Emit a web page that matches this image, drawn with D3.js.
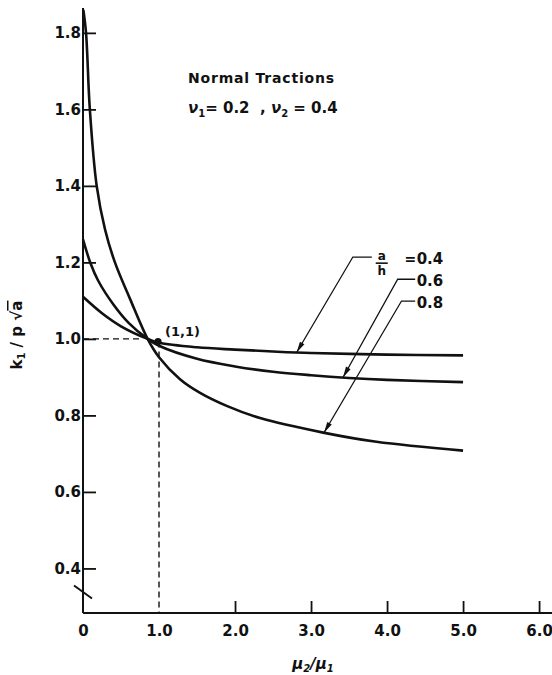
<!DOCTYPE html>
<html>
<head>
<meta charset="utf-8">
<script src="https://cdn.jsdelivr.net/npm/d3@7"></script>
<style>
  body { margin: 0; background: #fff; }
  text { font-family: "DejaVu Sans", sans-serif; font-weight: bold; fill: #111; }
</style>
</head>
<body>
<div id="chart"></div>
<script>
// a/h ratios and the k1/(p sqrt a) curves
const ratioLabels = ['0.4', '0.6', '0.8'];
const mu04 = [0, 0.25, 0.5, 0.85, 1.0, 1.5, 2.0, 2.5, 3.0, 4.0, 5.0];
const k04  = [1.11, 1.067, 1.033, 1.0, 0.99, 0.978, 0.972, 0.967, 0.963, 0.959, 0.957];
const mu06 = [0, 0.1, 0.2, 0.4, 0.6, 0.85, 1.0, 1.5, 2.0, 2.5, 3.0, 3.5, 4.0, 5.0];
const k06  = [1.26, 1.197, 1.152, 1.09, 1.042, 1.0, 0.982, 0.948, 0.928, 0.914, 0.905, 0.898, 0.893, 0.887];
const mu08 = [0.005, 0.04, 0.09, 0.18, 0.29, 0.42, 0.62, 0.85, 1.0, 1.28, 1.54, 1.89, 2.33, 3.16, 3.86, 5.0];
const k08  = [1.86, 1.8, 1.6, 1.4, 1.286, 1.2, 1.104, 1.0, 0.952, 0.894, 0.859, 0.825, 0.793, 0.755, 0.731, 0.708];
const xTicks = [0, 1, 2, 3, 4, 5, 6];
const yTicks = [0.4, 0.6, 0.8, 1.0, 1.2, 1.4, 1.6, 1.8];
const refPoint = [1.0, 0.993];
// where each leader arrow touches its curve (mu2/mu1)
const arrowAt = [2.81, 3.42, 3.17];

const width = 552, height = 675;
const xMax = 6.17, yMin = 0.2835, yMax = 1.865;

const svg = d3.select('#chart')
  .append('svg')
  .attr('width', width)
  .attr('height', height);

const x = d3.scaleLinear().domain([0, xMax]).range([83, 552]);
const y = d3.scaleLinear().domain([yMin, yMax]).range([613, 8]);

const series = [
  { label: ratioLabels[0], mu: mu04, k: k04 },
  { label: ratioLabels[1], mu: mu06, k: k06 },
  { label: ratioLabels[2], mu: mu08, k: k08 }
];

// linear lookup on a curve, used to put arrow tips on the line
function kAt(s, m) {
  const i = d3.bisectRight(s.mu, m) - 1;
  const t = (m - s.mu[i]) / (s.mu[i + 1] - s.mu[i]);
  return s.k[i] + t * (s.k[i + 1] - s.k[i]);
}

// dashed guides to the (1,1) point
svg.append('line')
  .attr('x1', x(0)).attr('x2', x(0.75))
  .attr('y1', y(1)).attr('y2', y(1))
  .attr('stroke', '#111').attr('stroke-width', 1.4)
  .attr('stroke-dasharray', '6,4');

svg.append('line')
  .attr('x1', x(refPoint[0])).attr('x2', x(refPoint[0]))
  .attr('y1', y(refPoint[1])).attr('y2', y(yMin))
  .attr('stroke', '#111').attr('stroke-width', 1.4)
  .attr('stroke-dasharray', '6,4');

// axes
const xAxis = d3.axisBottom(x)
  .tickValues(xTicks)
  .tickSizeInner(-12)
  .tickSizeOuter(0)
  .tickPadding(12)
  .tickFormat(d => d === 0 ? '0' : d3.format('.1f')(d));

const gx = svg.append('g')
  .attr('transform', `translate(0,${y(yMin)})`)
  .call(xAxis);
gx.select('.domain').remove();
gx.selectAll('.tick line')
  .attr('stroke', '#111').attr('stroke-width', 1.8)
  .filter(d => d < 2).remove();
gx.selectAll('.tick text')
  .style('font-size', '15px');

const yAxis = d3.axisLeft(y)
  .tickValues(yTicks)
  .tickSizeInner(-13)
  .tickSizeOuter(0)
  .tickPadding(2)
  .tickFormat(d3.format('.1f'));

const gy = svg.append('g')
  .attr('transform', `translate(${x(0)},0)`)
  .call(yAxis);
gy.select('.domain').remove();
gy.selectAll('.tick line').attr('stroke', '#111').attr('stroke-width', 1.8);
gy.selectAll('.tick text').style('font-size', '15px');

svg.append('line')
  .attr('x1', x(0)).attr('x2', x(xMax))
  .attr('y1', y(yMin)).attr('y2', y(yMin))
  .attr('stroke', '#111').attr('stroke-width', 2);

svg.append('line')
  .attr('x1', x(0)).attr('x2', x(0))
  .attr('y1', y(yMin)).attr('y2', y(yMax))
  .attr('stroke', '#111').attr('stroke-width', 2);

// axis break mark
const breakY = y(0.337);
svg.append('line')
  .attr('x1', x(0) - 9).attr('y1', breakY - 7)
  .attr('x2', x(0) + 9).attr('y2', breakY + 6)
  .attr('stroke', '#111').attr('stroke-width', 2);

// curves
const line = d3.line()
  .x(d => x(d[0]))
  .y(d => y(d[1]))
  .curve(d3.curveCatmullRom.alpha(0.5));

svg.selectAll('.curve')
  .data(series)
  .enter()
  .append('path')
  .attr('class', 'curve')
  .attr('fill', 'none')
  .attr('stroke', '#111')
  .attr('stroke-width', 2.6)
  .attr('d', s => line(s.mu.map((m, i) => [m, s.k[i]])));

// (1,1) point
svg.append('circle')
  .attr('cx', x(refPoint[0]) - 1).attr('cy', y(refPoint[1]))
  .attr('r', 3.6).attr('fill', '#111');

svg.append('text')
  .attr('x', x(refPoint[0]) + 6)
  .attr('y', y(1) - 3)
  .style('font-size', '13px')
  .text('(1,1)');

// leader lines: elbow position of each label, in data units
const leaders = [
  { elbow: [3.55, 1.214], end: 3.80 },
  { elbow: [4.14, 1.156], end: 4.37 },
  { elbow: [4.19, 1.099], end: 4.37 }
];

leaders.forEach((l, i) => {
  const tx = x(arrowAt[i]), ty = y(kAt(series[i], arrowAt[i]));
  const ex = x(l.elbow[0]), ey = y(l.elbow[1]);
  svg.append('path')
    .attr('fill', 'none')
    .attr('stroke', '#111')
    .attr('stroke-width', 1.3)
    .attr('d', `M${x(l.end)},${ey}L${ex},${ey}L${tx},${ty}`);
  // arrow head
  const ang = Math.atan2(ty - ey, tx - ex);
  const len = 11, hw = 2.6;
  const bx = tx - len * Math.cos(ang), by = ty - len * Math.sin(ang);
  const px = -Math.sin(ang) * hw, py = Math.cos(ang) * hw;
  svg.append('path')
    .attr('fill', '#111')
    .attr('d', `M${tx},${ty}L${bx + px},${by + py}L${bx - px},${by - py}Z`);
});

// label text
const fracX = x(3.93), barY = y(1.198);
svg.append('text').attr('x', fracX).attr('y', barY - 3)
  .attr('text-anchor', 'middle').style('font-size', '12px').text('a');
svg.append('line')
  .attr('x1', fracX - 6).attr('x2', fracX + 6)
  .attr('y1', barY).attr('y2', barY)
  .attr('stroke', '#111').attr('stroke-width', 1.6);
svg.append('text').attr('x', fracX).attr('y', barY + 12)
  .attr('text-anchor', 'middle').style('font-size', '12px').text('h');
svg.append('text').attr('x', x(4.23)).attr('y', barY + 1)
  .style('font-size', '14px').text('=');
svg.append('text').attr('x', x(4.39)).attr('y', barY + 1)
  .style('font-size', '15px').text(ratioLabels[0]);

svg.append('text').attr('x', x(4.39)).attr('y', y(1.138))
  .style('font-size', '15px').text(ratioLabels[1]);
svg.append('text').attr('x', x(4.39)).attr('y', y(1.081))
  .style('font-size', '15px').text(ratioLabels[2]);

// title block
svg.append('text')
  .attr('x', 188).attr('y', 83)
  .style('font-size', '14px')
  .style('letter-spacing', '0.8px')
  .text('Normal Tractions');

const nu = svg.append('text')
  .attr('x', 188).attr('y', 113)
  .style('font-size', '15px')
  .attr('xml:space', 'preserve');
nu.append('tspan').style('font-style', 'italic').text('ν');
nu.append('tspan').attr('dy', 4).style('font-size', '10px').text('1');
nu.append('tspan').attr('dy', -4).text('= 0.2  , ');
nu.append('tspan').style('font-style', 'italic').text('ν');
nu.append('tspan').attr('dy', 4).style('font-size', '10px').text('2');
nu.append('tspan').attr('dy', -4).text(' = 0.4');

// axis titles
const xl = svg.append('text')
  .attr('x', 313).attr('y', 669)
  .attr('text-anchor', 'middle')
  .style('font-size', '15px')
  .style('font-style', 'italic');
xl.append('tspan').text('μ');
xl.append('tspan').attr('dy', 3).style('font-size', '10px').text('2');
xl.append('tspan').attr('dy', -3).text('/μ');
xl.append('tspan').attr('dy', 3).style('font-size', '10px').text('1');

const yl = svg.append('text')
  .attr('transform', `translate(22,${y(1.01)}) rotate(-90)`)
  .attr('text-anchor', 'middle')
  .style('font-size', '15px');
yl.append('tspan').text('k');
yl.append('tspan').attr('dy', 3).style('font-size', '10px').text('1');
yl.append('tspan').attr('dy', -3).text(' / p √');
yl.append('tspan').style('text-decoration', 'overline').text('a');
</script>
</body>
</html>
